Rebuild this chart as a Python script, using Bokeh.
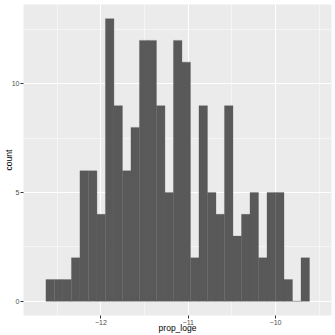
from bokeh.plotting import figure
from bokeh.models import Range1d, FixedTicker
from bokeh.embed import file_html
from bokeh.resources import INLINE

# histogram values
counts = [1, 1, 1, 2, 6, 6, 4, 13, 9, 6, 8, 12, 12, 9, 5, 12, 11, 2, 9, 5,
          4, 9, 3, 4, 5, 2, 5, 5, 1, 0, 2]
bin_start = -12.631
bin_width = 0.09745
x_ticks = [-12, -11, -10]
x_tick_labels = ["\u221212", "\u221211", "\u221210"]
x_minor = [-12.5, -11.5, -10.5, -9.5]
y_ticks = [0, 5, 10]
y_minor = [2.5, 7.5, 12.5]

lefts = [bin_start + i * bin_width for i in range(len(counts))]
rights = [l + bin_width for l in lefts]

FONT = "Liberation Sans"

p = figure(width=335, height=335, output_backend="svg", toolbar_location=None,
           x_range=Range1d(-12.888, -9.358), y_range=Range1d(-0.65, 13.65),
           min_border_left=0, min_border_right=4, min_border_top=4, min_border_bottom=0)
p.background_fill_color = "#EBEBEB"
p.border_fill_color = "white"
p.outline_line_color = None

p.quad(left=lefts, right=rights, top=counts, bottom=0,
       fill_color="#595959", line_color="#595959", line_width=0.3)

for ax in (p.xaxis[0], p.yaxis[0]):
    ax.axis_line_color = None
    ax.major_tick_in = 0
    ax.major_tick_out = 3
    ax.minor_tick_in = 0
    ax.minor_tick_out = 0
    ax.major_tick_line_color = "#333333"
    ax.major_label_text_font = FONT
    ax.major_label_text_font_size = "7px"
    ax.major_label_text_color = "#4D4D4D"
    ax.axis_label_text_font = FONT
    ax.axis_label_text_font_size = "8.5px"
    ax.axis_label_text_font_style = "normal"
    ax.axis_label_text_color = "black"
    ax.major_label_standoff = 1
    ax.axis_label_standoff = -5

p.xaxis.ticker = FixedTicker(ticks=x_ticks, minor_ticks=x_minor)
p.xaxis.major_label_overrides = dict(zip(x_ticks, x_tick_labels))
p.yaxis.ticker = FixedTicker(ticks=y_ticks, minor_ticks=y_minor)
p.xaxis.axis_label = "prop_loge"
p.yaxis.axis_label = "count"

for g in (p.xgrid[0], p.ygrid[0]):
    g.grid_line_color = "white"
    g.grid_line_width = 1.1
    g.minor_grid_line_color = "white"
    g.minor_grid_line_width = 0.5

open("out.html", "w").write(file_html(p, INLINE))
